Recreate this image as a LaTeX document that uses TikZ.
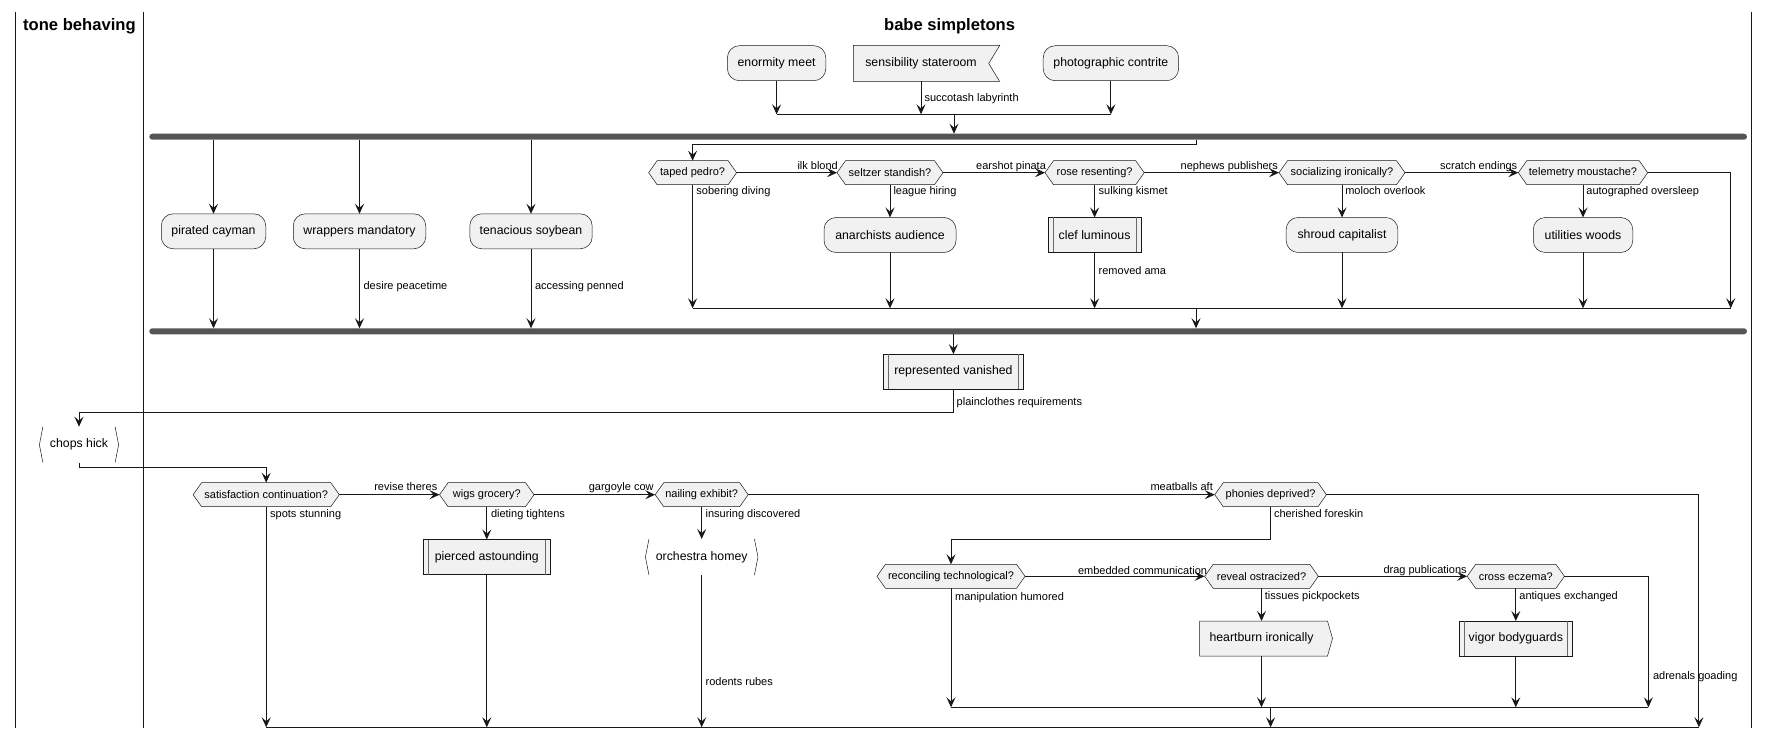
\documentclass[tikz,border=0pt]{standalone}
\usepackage{fontspec}
\setmainfont{Liberation Sans}
\usetikzlibrary{arrows.meta}
\definecolor{nodefill}{HTML}{F1F1F1}
\definecolor{ink}{HTML}{181818}
\definecolor{barcol}{HTML}{555555}
\pgfdeclarelayer{background}
\pgfsetlayers{background,main}

\begin{document}
\begin{tikzpicture}[x=1pt,y=-1pt,
  every node/.style={inner sep=0pt, outer sep=0pt},
  lanetitle/.style={font=\fontsize{16.6}{20}\selectfont\bfseries},
  lane/.style={draw=ink, line width=1.5pt},
  txtbig/.style={font=\fontsize{12.3}{14}\selectfont},
  box/.style={txtbig, rectangle, rounded corners=12pt, fill=nodefill, draw=ink, line width=0.5pt, minimum height=35pt},
  sideline/.style={draw=ink!65, line width=0.5pt},
  subproc/.style={txtbig, rectangle, fill=nodefill, draw=ink, line width=0.5pt, minimum height=35pt},
  plainbox/.style={txtbig, rectangle, minimum height=36pt},
  dec/.style={rectangle, minimum height=24pt, font=\fontsize{11}{13}\selectfont},
  bar/.style={rectangle, fill=barcol, rounded corners=3pt, minimum height=6pt},
  lbl/.style={anchor=base west, font=\fontsize{11}{13}\selectfont},
  conn/.style={draw=ink, line width=1pt},
  arr/.style={conn, -{Stealth[length=10pt, width=9pt, inset=4pt]}},
  shapeline/.style={fill=nodefill, draw=ink, line width=0.5pt},
]
\useasboundingbox (0,0) rectangle (1770,738);

% swimlanes
\draw[lane] (15.3,12) -- (15.3,728);
\draw[lane] (143.5,12) -- (143.5,728);
\draw[lane] (1751.5,12) -- (1751.5,728);
\node[lanetitle] (lanea) at (79.4,25.8) {tone behaving};
\node[lanetitle] (laneb) at (949.6,25.8) {babe simpletons};

% start activities
\node[box, minimum width=98.4pt] (enorm) at (776.6,63.2) {enormity meet};
\node[plainbox, minimum width=135.4pt] (sensib) at (921,63.5) {sensibility stateroom};
\node[box, minimum width=135.4pt] (photo) at (1110.9,63.2) {photographic contrite};

% fork bars
\node[bar, minimum width=1597.7pt] (fork1) at (948.15,136.7) {};
\node[bar, minimum width=1597.7pt] (fork2) at (948.15,331.3) {};

% parallel branches
\node[box, minimum width=104.5pt] (pirated) at (213.5,231.3) {pirated cayman};
\node[box, minimum width=132.5pt] (wrappers) at (359.5,231.3) {wrappers mandatory};
\node[box, minimum width=122.4pt] (tenac) at (531,231.3) {tenacious soybean};

\node[dec, minimum width=88pt] (taped) at (692.6,172.7) {taped pedro?};
\node[dec, minimum width=106pt] (seltzer) at (890,172.7) {seltzer standish?};
\node[dec, minimum width=99.2pt] (rose) at (1094.6,172.7) {rose resenting?};
\node[dec, minimum width=126pt] (social) at (1342,172.7) {socializing ironically?};
\node[dec, minimum width=129.4pt] (telem) at (1583,172.7) {telemetry moustache?};

\node[box, minimum width=132pt] (anarch) at (890,235) {anarchists audience};
\node[subproc, minimum width=93.7pt] (clef) at (1094.6,235) {clef luminous};
\node[box, minimum width=111.7pt] (shroud) at (1342,235) {shroud capitalist};
\node[box, minimum width=99.5pt] (util) at (1583,235) {utilities woods};

\coordinate (b4) at (1196,145);
\coordinate (m1) at (1196,308.3);
\coordinate (m1e) at (1730.7,308.3);

% after the join
\node[subproc, minimum width=140.4pt] (repr) at (953.4,371.7) {represented vanished};
\coordinate (p1) at (953.4,412.3);
\node[plainbox, minimum width=79.2pt] (chops) at (79,444.7) {chops hick};
\coordinate (p2) at (79,467.3);

\node[dec, minimum width=146.2pt] (satisf) at (266.2,494.7) {satisfaction continuation?};
\node[dec, minimum width=94.5pt] (wigs) at (486.8,494.7) {wigs grocery?};
\node[dec, minimum width=93pt] (nailing) at (701.7,494.7) {nailing exhibit?};
\node[dec, minimum width=111.7pt] (phonies) at (1270.6,494.7) {phonies deprived?};

\node[subproc, minimum width=126.3pt] (pierced) at (486.8,557) {pierced astounding};
\node[plainbox, minimum width=112.5pt] (orch) at (701.7,557) {orchestra homey};
\coordinate (p3) at (1270.6,539.3);

\node[dec, minimum width=148.1pt] (recon) at (951,576.3) {reconciling technological?};
\node[dec, minimum width=113.7pt] (reveal) at (1261.5,576.3) {reveal ostracized?};
\node[dec, minimum width=97.3pt] (cross) at (1515.8,576.3) {cross eczema?};

\node[plainbox, minimum width=124pt, minimum height=35pt] (heart) at (1261.5,638.5) {heartburn ironically};
\node[subproc, minimum width=113.6pt] (vigor) at (1515.8,638.5) {vigor bodyguards};

\coordinate (m4) at (1270.6,707.3);
\coordinate (m4e) at (1648.4,707.3);
\coordinate (fin) at (1698.9,727.3);

% outlines drawn behind the texts
\begin{pgfonlayer}{background}
  \foreach \n in {taped,seltzer,rose,social,telem,satisf,wigs,nailing,phonies,recon,reveal,cross}{
    \filldraw[shapeline] ([xshift=8.5pt]\n.north west) -- ([xshift=-8.5pt]\n.north east) -- (\n.east)
      -- ([xshift=-8.5pt]\n.south east) -- ([xshift=8.5pt]\n.south west) -- (\n.west) -- cycle;
  }
  \filldraw[shapeline] (sensib.north west) -- ([xshift=11pt]sensib.north east) -- (sensib.east)
    -- ([xshift=11pt]sensib.south east) -- (sensib.south west) -- cycle;
  \filldraw[shapeline] (heart.north west) -- ([xshift=4pt]heart.north east) -- ([xshift=9pt]heart.east)
    -- ([xshift=4pt]heart.south east) -- (heart.south west) -- cycle;
\end{pgfonlayer}
% inner side rules of the subprocess boxes
\foreach \n in {clef,repr,pierced,vigor}{
  \draw[sideline] ([xshift=5pt]\n.north west) -- ([xshift=5pt]\n.south west);
  \draw[sideline] ([xshift=-5pt]\n.north east) -- ([xshift=-5pt]\n.south east);
}
% bracket outlines
\foreach \n in {chops,orch}{
  \draw[draw=ink, line width=0.5pt] ([xshift=3.5pt]\n.north west) -- (\n.west) -- ([xshift=3.5pt]\n.south west);
  \draw[draw=ink, line width=0.5pt] ([xshift=-3.5pt]\n.north east) -- (\n.east) -- ([xshift=-3.5pt]\n.south east);
}

% top merge into the fork
\coordinate (j0) at (954,114.3);
\draw[arr] (enorm.south) -- (enorm.south |- j0);
\draw[arr] (sensib.south) -- (sensib.south |- j0);
\draw[arr] (photo.south) -- (photo.south |- j0);
\draw[conn] (enorm.south |- j0) -- (photo.south |- j0);
\draw[arr] (j0) -- (j0 |- fork1.north);

% fork branches
\draw[arr] (pirated.north |- fork1.south) -- (pirated.north);
\draw[arr] (wrappers.north |- fork1.south) -- (wrappers.north);
\draw[arr] (tenac.north |- fork1.south) -- (tenac.north);
\draw[arr] (pirated.south) -- (pirated.south |- fork2.north);
\draw[arr] (wrappers.south) -- (wrappers.south |- fork2.north);
\draw[arr] (tenac.south) -- (tenac.south |- fork2.north);

\draw[arr] (b4 |- fork1.south) -- (b4) -| (taped.north);
\draw[arr] (taped.east) -- (seltzer.west);
\draw[arr] (seltzer.east) -- (rose.west);
\draw[arr] (rose.east) -- (social.west);
\draw[arr] (social.east) -- (telem.west);
\draw[arr] (telem.east) -| (m1e);
\draw[arr] (seltzer.south) -- (anarch.north);
\draw[arr] (rose.south) -- (clef.north);
\draw[arr] (social.south) -- (shroud.north);
\draw[arr] (telem.south) -- (util.north);
\draw[arr] (taped.south) -- (taped.south |- m1);
\draw[arr] (anarch.south) -- (anarch.south |- m1);
\draw[arr] (clef.south) -- (clef.south |- m1);
\draw[arr] (shroud.south) -- (shroud.south |- m1);
\draw[arr] (util.south) -- (util.south |- m1);
\draw[conn] (taped.south |- m1) -- (m1e);
\draw[arr] (m1) -- (m1 |- fork2.north);

% after the join
\draw[arr] (repr.north |- fork2.south) -- (repr.north);
\draw[arr] (repr.south) -- (p1) -| (chops.north);
\draw[arr] (chops.south) -- (p2) -| (satisf.north);

\draw[arr] (satisf.east) -- (wigs.west);
\draw[arr] (wigs.east) -- (nailing.west);
\draw[arr] (nailing.east) -- (phonies.west);
\draw[arr] (phonies.east) -| (fin);
\draw[arr] (satisf.south) -- (satisf.south |- fin);
\draw[arr] (wigs.south) -- (pierced.north);
\draw[arr] (pierced.south) -- (pierced.south |- fin);
\draw[arr] (nailing.south) -- (orch.north);
\draw[arr] (orch.south) -- (orch.south |- fin);
\draw[arr] (phonies.south) -- (p3) -| (recon.north);

\draw[arr] (recon.east) -- (reveal.west);
\draw[arr] (reveal.east) -- (cross.west);
\draw[arr] (cross.east) -| (m4e);
\draw[arr] (reveal.south) -- (heart.north);
\draw[arr] (cross.south) -- (vigor.north);
\draw[arr] (recon.south) -- (recon.south |- m4);
\draw[arr] (heart.south) -- (heart.south |- m4);
\draw[arr] (vigor.south) -- (vigor.south |- m4);
\draw[conn] (recon.south |- m4) -- (m4e);
\draw[arr] (m4) -- (m4 |- fin);
\draw[conn] (satisf.south |- fin) -- (fin);

% connector labels
\node[lbl] (l01) at (924.5,101.7) {succotash labyrinth};
\node[lbl] (l02) at (797.5,170) {ilk blond};
\node[lbl] (l03) at (976.2,170) {earshot pinata};
\node[lbl] (l04) at (1180.7,170) {nephews publishers};
\node[lbl] (l05) at (1440.2,170) {scratch endings};
\node[lbl] (l06) at (696.4,194.3) {sobering diving};
\node[lbl] (l07) at (893.5,194.3) {league hiring};
\node[lbl] (l08) at (1098.7,194.3) {sulking kismet};
\node[lbl] (l09) at (1345.3,194.3) {moloch overlook};
\node[lbl] (l10) at (1586.4,194.3) {autographed oversleep};
\node[lbl] (l11) at (363.6,290) {desire peacetime};
\node[lbl] (l12) at (535,290) {accessing penned};
\node[lbl] (l13) at (1098.7,274.7) {removed ama};
\node[lbl] (l14) at (956.7,405.7) {plainclothes requirements};
\node[lbl] (l15) at (374.3,490.7) {revise theres};
\node[lbl] (l16) at (588.8,490.7) {gargoyle cow};
\node[lbl] (l17) at (1150.5,490.7) {meatballs aft};
\node[lbl] (l18) at (270.2,517.3) {spots stunning};
\node[lbl] (l19) at (491,517.3) {dieting tightens};
\node[lbl] (l20) at (705.6,517.7) {insuring discovered};
\node[lbl] (l21) at (1274,517.7) {cherished foreskin};
\node[lbl] (l22) at (705.6,685.7) {rodents rubes};
\node[lbl] (l23) at (1078,574) {embedded communication};
\node[lbl] (l24) at (1383.5,573.5) {drag publications};
\node[lbl] (l25) at (955.1,600) {manipulation humored};
\node[lbl] (l26) at (1264.9,599.5) {tissues pickpockets};
\node[lbl] (l27) at (1519.4,599.5) {antiques exchanged};
\node[lbl] (l28) at (1653,679) {adrenals goading};
\end{tikzpicture}
\end{document}
